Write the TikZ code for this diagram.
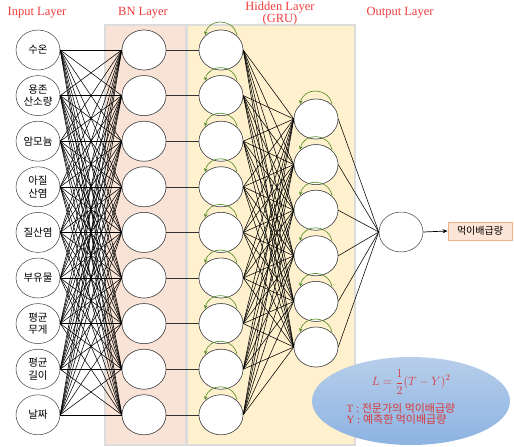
\documentclass[tikz,border=0pt]{standalone}
\usepackage{fontspec}
\setmainfont{Liberation Serif}
\newfontfamily\kr{Noto Sans CJK KR}
\usetikzlibrary{shapes.geometric,arrows.meta}

\definecolor{titlered}{HTML}{F03C3C}
\definecolor{bnfill}{HTML}{F9E2D6}
\definecolor{gruFill}{HTML}{FFF1CD}
\definecolor{panelEdge}{HTML}{DCDCDC}
\definecolor{loopgreen}{HTML}{4E8A20}
\definecolor{boxfill}{HTML}{FCE4D6}
\definecolor{boxedge}{HTML}{F4B183}
\definecolor{lossTop}{HTML}{B7CEEA}
\definecolor{lossBot}{HTML}{8DB3E2}
\definecolor{lossText}{HTML}{D83A3A}

\tikzset{
  neuron/.style={ellipse, draw=black!75, line width=0.5pt, fill=white,
    minimum width=44pt, minimum height=40pt, inner sep=0pt,
    align=center, font=\kr\fontsize{10.5}{12.5}\selectfont},
  layertitle/.style={text=titlered, font=\fontsize{12.5}{12}\selectfont, align=center},
  wire/.style={line width=0.55pt, black},
  selfloop/.style={loopgreen, line width=0.6pt, -{Stealth[length=3.5pt,width=3.5pt]}},
  panel/.style={draw=panelEdge, line width=1.2pt}
}

\begin{document}
\begin{tikzpicture}[x=1pt, y=-1pt]
\useasboundingbox (0,0) rectangle (514,447);

% layer panels
\fill[bnfill] (105,25) rectangle (186,445);
\draw[panel] (105,25) rectangle (186,445);
\fill[gruFill] (187,25) rectangle (355,445);
\draw[panel] (187,25) rectangle (355,445);

% titles
\node[layertitle] (tIn)  at (37,12.5) {Input Layer};
\node[layertitle] (tBN)  at (143,12.5) {BN Layer};
\node[layertitle] (tHid) at (280,13.5) {Hidden Layer\\(GRU)};
\node[layertitle] (tOut) at (400,12.5) {Output Layer};

% input layer
\foreach \lab [count=\i] in {수온,{용존\\산소량},암모늄,{아질\\산염},질산염,부유물,{평균\\무게},{평균\\길이},날짜}{
  \node[neuron] (in\i) at (38, {50+45.6*(\i-1)}) {\lab};
}

% batch-normalisation layer
\foreach \i in {1,...,9}{
  \node[neuron] (bn\i) at (144, {50+45.6*(\i-1)}) {};
}

% first GRU layer
\foreach \i in {1,...,9}{
  \node[neuron] (ha\i) at (221, {50+45.6*(\i-1)}) {};
}

% second GRU layer
\foreach \j in {1,...,6}{
  \node[neuron] (hb\j) at (316, {119+45.6*(\j-1)}) {};
}

% output neuron and target
\node[neuron] (out) at (401,232) {};
\node[draw=boxedge, fill=boxfill, line width=0.8pt, minimum width=64pt, minimum height=18pt,
  inner sep=1pt, font=\kr\fontsize{10}{12}\selectfont] (target) at (480,231) {먹이배급량};

% connections
\foreach \i in {1,...,9}{
  \foreach \k in {1,...,9}{
    \draw[wire] (in\i.east) -- (bn\k.west);
  }
  \draw[wire, black!80] (bn\i.east) -- (ha\i.west);
  \foreach \j in {1,...,6}{
    \draw[wire] (ha\i.east) -- (hb\j.west);
  }
}
\foreach \j in {1,...,6}{
  \draw[wire] (hb\j.east) -- (out.west);
}
\draw[line width=0.7pt, -{Stealth[length=5pt,width=4pt]}] (out.east) -- (target.west);

% redraw neurons above the wires
\foreach \i in {1,...,9}{
  \node[neuron] at (bn\i) {};
  \node[neuron] at (ha\i) {};
}
\foreach \j in {1,...,6}{
  \node[neuron] at (hb\j) {};
}

% recurrent self-loops: arc over the top, running right to left
\foreach \i in {1,...,9}{
  \draw[selfloop] ([shift={(16,-15)}]ha\i.center) .. controls ([shift={(12,-32)}]ha\i.center)
    and ([shift={(-12,-32)}]ha\i.center) .. ([shift={(-16,-15)}]ha\i.center);
}
\foreach \j in {1,...,6}{
  \draw[selfloop] ([shift={(16,-15)}]hb\j.center) .. controls ([shift={(12,-32)}]hb\j.center)
    and ([shift={(-12,-32)}]hb\j.center) .. ([shift={(-16,-15)}]hb\j.center);
}

% loss function
\node[ellipse, minimum width=198pt, minimum height=88pt, inner sep=0pt,
  top color=lossTop, bottom color=lossBot, draw=none] (loss) at (411,401) {};
\node[text=lossText, font=\fontsize{12.5}{14}\selectfont] (lossEq) at (411,382)
  {$\displaystyle L=\frac{1}{2}(T-Y)^2$};
\node[text=lossText, anchor=west, align=left, font=\fontsize{11}{11}\selectfont] (lossDef) at (343,414)
  {T : {\kr 전문가의 먹이배급량}\\Y : {\kr 예측한 먹이배급량}};
\end{tikzpicture}
\end{document}
